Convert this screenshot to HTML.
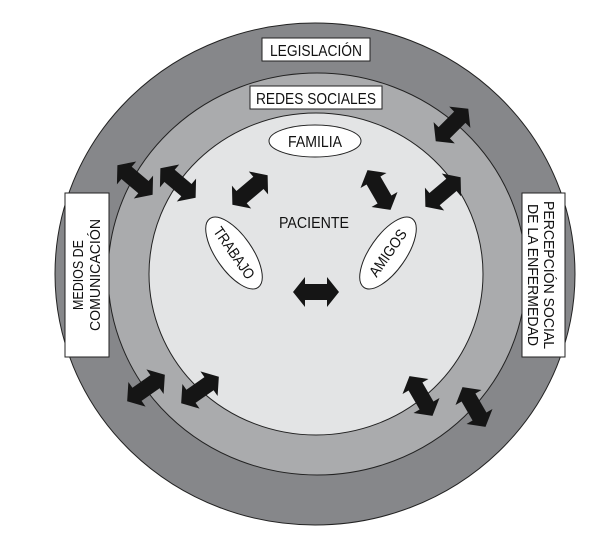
<!DOCTYPE html>
<html><head><meta charset="utf-8"><style>
html,body{margin:0;padding:0;background:#fff;width:613px;height:543px;overflow:hidden}
text{font-family:"Liberation Sans",sans-serif;fill:#111}
</style></head><body>
<svg width="613" height="543" viewBox="0 0 613 543" xmlns="http://www.w3.org/2000/svg">
<defs>
<polygon id="ar" points="-23,0 -11,-15 -11,-8 11,-8 11,-15 23,0 11,15 11,8 -11,8 -11,15" fill="#151515"/>
</defs>
<ellipse cx="315" cy="274" rx="260" ry="251" fill="#86878a" stroke="#222" stroke-width="1"/>
<ellipse cx="317" cy="274" rx="209" ry="201" fill="#aaabad" stroke="#222" stroke-width="1"/>
<ellipse cx="316" cy="274" rx="167" ry="161" fill="#e3e4e5" stroke="#222" stroke-width="1"/>

<rect x="262" y="38" width="108" height="23" fill="#fff" stroke="#222"/>
<text x="316" y="56" font-size="16" text-anchor="middle" textLength="92" lengthAdjust="spacingAndGlyphs">LEGISLACIÓN</text>
<rect x="250" y="86" width="132" height="23" fill="#fff" stroke="#222"/>
<text x="316" y="104" font-size="16" text-anchor="middle" textLength="120" lengthAdjust="spacingAndGlyphs">REDES SOCIALES</text>

<ellipse cx="315" cy="141" rx="46" ry="16" fill="#fff" stroke="#222"/>
<text x="315" y="147" font-size="16" text-anchor="middle" textLength="54" lengthAdjust="spacingAndGlyphs">FAMILIA</text>
<text x="314" y="228" font-size="16" text-anchor="middle" textLength="70" lengthAdjust="spacingAndGlyphs">PACIENTE</text>

<g transform="translate(234,253) rotate(55)">
<ellipse cx="0" cy="0" rx="42" ry="18" fill="#fff" stroke="#222"/>
<text x="0" y="5" font-size="15" text-anchor="middle" textLength="60" lengthAdjust="spacingAndGlyphs">TRABAJO</text></g>
<g transform="translate(388,253) rotate(-55)">
<ellipse cx="0" cy="0" rx="42" ry="18" fill="#fff" stroke="#222"/>
<text x="0" y="5" font-size="15" text-anchor="middle" textLength="54" lengthAdjust="spacingAndGlyphs">AMIGOS</text></g>

<rect x="65" y="193" width="44" height="164" fill="#fff" stroke="#222"/>
<g transform="translate(87,275) rotate(-90)">
<text x="0" y="-4" font-size="15" text-anchor="middle" textLength="70" lengthAdjust="spacingAndGlyphs">MEDIOS DE</text>
<text x="0" y="13" font-size="15" text-anchor="middle" textLength="112" lengthAdjust="spacingAndGlyphs">COMUNICACIÓN</text></g>
<rect x="522" y="193" width="43" height="164" fill="#fff" stroke="#222"/>
<g transform="translate(543,275) rotate(90)">
<text x="0" y="-1" font-size="15" text-anchor="middle" textLength="148" lengthAdjust="spacingAndGlyphs">PERCEPCIÓN SOCIAL</text>
<text x="0" y="15" font-size="15" text-anchor="middle" textLength="142" lengthAdjust="spacingAndGlyphs">DE LA ENFERMEDAD</text></g>

<use href="#ar" transform="translate(452,125) rotate(-45)"/>
<use href="#ar" transform="translate(135,180) rotate(40)"/>
<use href="#ar" transform="translate(178,183) rotate(40)"/>
<use href="#ar" transform="translate(250,190) rotate(-40)"/>
<use href="#ar" transform="translate(379,190) rotate(60)"/>
<use href="#ar" transform="translate(443,192) rotate(-40)"/>
<use href="#ar" transform="translate(316,292)"/>
<use href="#ar" transform="translate(146,388) rotate(-35)"/>
<use href="#ar" transform="translate(200,390) rotate(-35)"/>
<use href="#ar" transform="translate(421,396) rotate(60)"/>
<use href="#ar" transform="translate(474,407) rotate(60)"/>
</svg>
</body></html>
